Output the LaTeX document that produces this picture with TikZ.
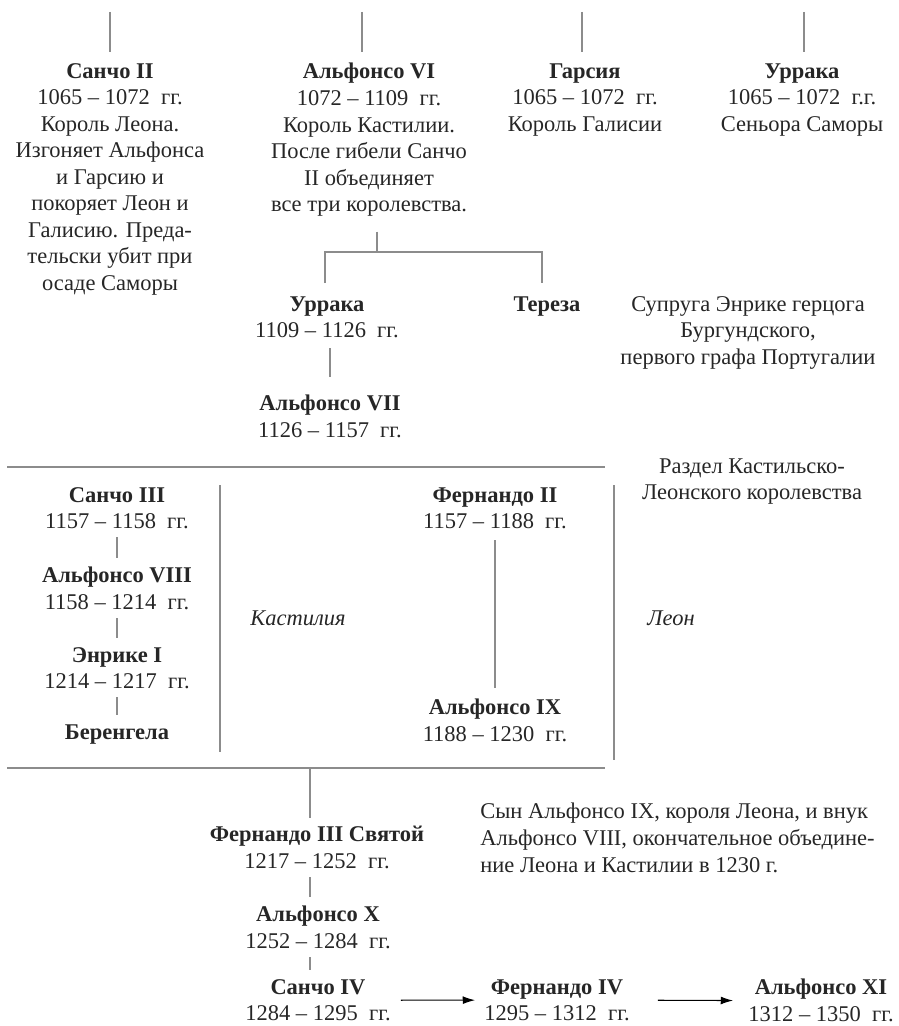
\documentclass[tikz,border=0pt]{standalone}
\usepackage{fontspec}
\setmainfont{Liberation Serif}
\usepackage{tikz}
\usetikzlibrary{arrows.meta}
\colorlet{rulegray}{black!45}
\newcommand{\reign}[3]{#1 – #2\enspace #3}

\begin{document}
\begin{tikzpicture}[x=0.02cm,y=-0.02cm,
  every node/.style={font=\fontsize{12.8pt}{15.1pt}\selectfont,inner sep=0pt,text=black!85},
  king/.style={align=center,anchor=north},
  note/.style={align=center,anchor=north},
  realm/.style={font=\fontsize{12.8pt}{15.1pt}\selectfont\itshape},
  link/.style={draw=rulegray,line width=0.8pt,shorten <=0.16cm,shorten >=0.18cm},
  rule/.style={draw=rulegray,line width=1pt},
  succ/.style={-{Latex[length=7pt,width=4.5pt]},line width=0.6pt,black}]
\useasboundingbox (0,0) rectangle (898,1026);

\node[king] (sancho2) at (110,63) {\textbf{Санчо II}\\\reign{1065}{1072}{гг.}\\Король Леона.\\Изгоняет Альфонса\\и Гарсию и\\покоряет Леон и\\Галисию. Преда-\\тельски убит при\\осаде Саморы};
\node[king] (alfonso6) at (369,63) {\textbf{Альфонсо VI}\\\reign{1072}{1109}{гг.}\\Король Кастилии.\\После гибели Санчо\\II объединяет\\все три королевства.};
\node[king] (garcia) at (585,63) {\textbf{Гарсия}\\\reign{1065}{1072}{гг.}\\Король Галисии};
\node[king] (urraca1) at (802,63) {\textbf{Уррака}\\\reign{1065}{1072}{г.г.}\\Сеньора Саморы};
\coordinate (top1) at (110,12);
\coordinate (top2) at (362,12);
\coordinate (top3) at (582,12);
\coordinate (top4) at (804,12);
\draw[link,shorten <=0pt,shorten >=0.22cm] (top1) -- (top1 |- sancho2.north);
\draw[link,shorten <=0pt,shorten >=0.22cm] (top2) -- (top2 |- alfonso6.north);
\draw[link,shorten <=0pt,shorten >=0.22cm] (top3) -- (top3 |- garcia.north);
\draw[link,shorten <=0pt,shorten >=0.22cm] (top4) -- (top4 |- urraca1.north);

\node[king] (urraca2) at (327,296) {\textbf{Уррака}\\\reign{1109}{1126}{гг.}};
\node[king] (teresa) at (547,296) {\textbf{Тереза}};
\node[note] (teresa-note) at (748,296) {Супруга Энрике герцога\\Бургундского,\\первого графа Португалии};
\node[king] (alfonso7) at (330,395) {\textbf{Альфонсо VII}\\\reign{1126}{1157}{гг.}};
\coordinate (fork) at (377,252);
\coordinate (forkL) at (325,252);
\coordinate (forkR) at (542,252);
\draw[link,shorten <=0.3cm,shorten >=0pt] (alfonso6.south -| fork) -- (fork);
\draw[link,shorten <=0.26cm,shorten >=0.26cm] (forkL |- urraca2.north) -- (forkL) -- (forkR) -- (forkR |- teresa.north);
\draw[link,shorten <=0.2cm,shorten >=0.36cm] (urraca2.south -| alfonso7.north) -- (alfonso7.north);

\draw[rule] (7,467) -- (605,467);
\draw[rule] (7,768) -- (605,768);
\draw[rule] (220,485) -- (220,752);
\draw[rule] (614,485) -- (614,760);
\node[note] (split-note) at (752,458) {Раздел Кастильско-\\Леонского королевства};
\node[realm] (castile) at (298,618) {Кастилия};
\node[realm] (leon) at (671,618) {Леон};

\node[king] (sancho3) at (117,487) {\textbf{Санчо III}\\\reign{1157}{1158}{гг.}};
\node[king] (alfonso8) at (117,567) {\textbf{Альфонсо VIII}\\\reign{1158}{1214}{гг.}};
\node[king] (enrique1) at (117,647) {\textbf{Энрике I}\\\reign{1214}{1217}{гг.}};
\node[king] (berengela) at (117,724) {\textbf{Беренгела}};
\draw[link] (sancho3.south) -- (alfonso8.north);
\draw[link] (alfonso8.south) -- (enrique1.north);
\draw[link] (enrique1.south) -- (berengela.north);

\node[king] (fernando2) at (495,487) {\textbf{Фернандо II}\\\reign{1157}{1188}{гг.}};
\node[king] (alfonso9) at (495,699) {\textbf{Альфонсо IX}\\\reign{1188}{1230}{гг.}};
\draw[link,shorten <=0.22cm,shorten >=0.22cm] (fernando2.south) -- (alfonso9.north);

\coordinate (join) at (310,768);
\node[king] (fernando3) at (317,826) {\textbf{Фернандо III Святой}\\\reign{1217}{1252}{гг.}};
\node[king] (alfonso10) at (318,906) {\textbf{Альфонсо X}\\\reign{1252}{1284}{гг.}};
\node[king] (sancho4) at (318,979) {\textbf{Санчо IV}\\\reign{1284}{1295}{гг.}};
\node[king] (fernando4) at (557,979) {\textbf{Фернандо IV}\\\reign{1295}{1312}{гг.}};
\node[king] (alfonso11) at (821,979) {\textbf{Альфонсо XI}\\\reign{1312}{1350}{гг.}};
\node[note,anchor=north west,align=left] (union-note) at (480,803) {Сын Альфонсо IX, короля Леона, и внук\\Альфонсо VIII, окончательное объедине-\\ние Леона и Кастилии в 1230 г.};
\draw[link,shorten <=0pt,shorten >=0.16cm] (join) -- (join |- fernando3.north);
\draw[link] (fernando3.south -| join) -- (alfonso10.north -| join);
\draw[link] (alfonso10.south -| join) -- (sancho4.north -| join);
\draw[succ,shorten <=0.2cm,shorten >=0.18cm] (sancho4.east) -- (fernando4.west);
\draw[succ,shorten <=0.56cm,shorten >=0.3cm] (fernando4.east) -- (alfonso11.west);
\end{tikzpicture}
\end{document}
